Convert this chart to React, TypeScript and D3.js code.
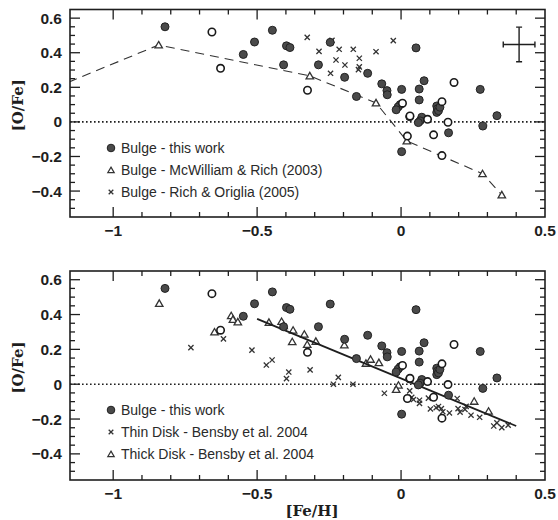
import React from 'react';
import * as d3 from 'd3';

// ---------- axes ----------
const xDomain: [number, number] = [-1.15, 0.5];
const yDomain: [number, number] = [-0.55, 0.65];
const xMajorTicks = [-1, -0.5, 0, 0.5];
const xTickLabels = ['−1', '−0.5', '0', '0.5'];
const yMajorTicks = [0.6, 0.4, 0.2, 0, -0.2, -0.4];
const yTickLabels = ['0.6', '0.4', '0.2', '0', '−0.2', '−0.4'];
const xMinorStep = 0.1;
const yMinorStep = 0.05;

// ---------- data: [Fe/H], [O/Fe] ----------
const bulgeFilled: [number, number][] = [
  [-0.82, 0.55], [-0.447, 0.53], [-0.509, 0.462], [-0.548, 0.39], [-0.398, 0.44],
  [-0.386, 0.43], [-0.408, 0.33], [-0.246, 0.46], [-0.287, 0.33], [-0.196, 0.258],
  [-0.116, 0.281], [-0.155, 0.147], [-0.067, 0.22], [-0.049, 0.181], [-0.048, 0.157],
  [0.002, 0.188], [0.052, 0.428], [0.063, 0.19], [0.08, 0.238], [0.063, 0.127],
  [-0.003, 0.1], [-0.01, 0.087], [-0.017, 0.07], [0.03, 0.03], [0.072, 0.027],
  [0.066, 0.006], [0.06, -0.004], [0.124, 0.092], [0.126, 0.075], [0.124, 0.055],
  [0.13, 0.065], [0.135, 0.085], [0.165, -0.063], [0.002, -0.172], [0.275, 0.188],
  [0.284, -0.024], [0.333, 0.036],
];
const bulgeOpen: [number, number][] = [
  [-0.657, 0.52], [-0.627, 0.31], [-0.325, 0.183], [0.005, 0.108], [0.031, 0.034],
  [0.022, -0.082], [0.092, 0.015], [0.113, -0.075], [0.142, 0.117], [0.163, -0.002],
  [0.184, 0.228], [0.142, -0.195],
];
const mcWilliamRich: [number, number][] = [
  [-1.3, 0.13], [-0.842, 0.445], [-0.317, 0.266], [-0.087, 0.11], [0.02, -0.11],
  [0.283, -0.3], [0.35, -0.422],
];
const richOriglia: [number, number][] = [
  [-0.326, 0.489], [-0.285, 0.408], [-0.24, 0.472], [-0.215, 0.42], [-0.166, 0.42],
  [-0.226, 0.358], [-0.195, 0.329], [-0.145, 0.368], [-0.145, 0.318], [-0.148, 0.302],
  [-0.245, 0.281], [-0.087, 0.406], [-0.027, 0.47],
];
const thinDisk: [number, number][] = [
  [-0.73, 0.21], [-0.617, 0.26], [-0.518, 0.196], [-0.468, 0.11], [-0.448, 0.139],
  [-0.39, 0.07], [-0.398, 0.032], [-0.316, 0.082], [-0.218, 0.039], [-0.235, 0.0],
  [-0.167, 0.0], [-0.058, -0.052], [0.03, -0.038], [0.037, -0.075], [0.043, -0.088],
  [0.064, -0.092], [0.064, -0.11], [0.095, -0.08], [0.102, -0.142], [0.122, -0.135],
  [0.13, -0.128], [0.14, -0.14], [0.145, -0.158], [0.168, -0.165], [0.195, -0.082],
  [0.198, -0.14], [0.205, -0.16], [0.222, -0.145], [0.226, -0.127], [0.243, -0.178],
  [0.273, -0.19], [0.322, -0.24], [0.333, -0.222], [0.35, -0.249], [0.372, -0.235],
];
const thickDisk: [number, number][] = [
  [-0.84, 0.464], [-0.648, 0.3], [-0.59, 0.393], [-0.584, 0.372], [-0.567, 0.358],
  [-0.459, 0.355], [-0.415, 0.36], [-0.408, 0.336], [-0.375, 0.31], [-0.378, 0.244],
  [-0.336, 0.287], [-0.326, 0.228], [-0.296, 0.246], [-0.197, 0.225], [-0.122, 0.12],
  [-0.106, 0.143], [-0.077, 0.124], [-0.009, -0.006], [-0.017, -0.03], [0.254, -0.098],
  [0.304, -0.155],
];
const fitLineFeH = [-0.5, 0.4];
const fitLineOFe = [0.375, -0.24];
const errorBar = { x: 0.41, y: 0.448, dx: 0.055, dy: 0.1 };

const legendTop = ['Bulge - this work', 'Bulge - McWilliam & Rich (2003)', 'Bulge - Rich & Origlia (2005)'];
const legendBottom = ['Bulge - this work', 'Thin Disk - Bensby et al. 2004', 'Thick Disk - Bensby et al. 2004'];

// ---------- layout ----------
const W = 558, H = 520;
const left = 70, right = 545;
const panels = [
  { top: 9.5, bottom: 217 },
  { top: 271, bottom: 480 },
];

const INK = '#1e1e1e';
const SANS = '"Liberation Sans", Arial, Helvetica, sans-serif';
const SERIF = '"DejaVu Serif", "Liberation Serif", serif';

const x = d3.scaleLinear().domain(xDomain).range([left, right]);

const triPath = d3.symbol(d3.symbolTriangle, 24)()!;

function Cross({ cx, cy, s = 2.6 }: { cx: number; cy: number; s?: number }) {
  return (
    <path d={`M${cx - s},${cy - s}L${cx + s},${cy + s}M${cx - s},${cy + s}L${cx + s},${cy - s}`}
      stroke="#333" strokeWidth={1.3} fill="none" />
  );
}
function Tri({ cx, cy }: { cx: number; cy: number }) {
  return <path d={triPath} transform={`translate(${cx},${cy + 0.8})`} fill="white" stroke="#333" strokeWidth={1.3} />;
}
function Filled({ cx, cy }: { cx: number; cy: number }) {
  return <circle cx={cx} cy={cy} r={4} fill="#4a4a4a" stroke="#222" strokeWidth={1} />;
}
function Open({ cx, cy }: { cx: number; cy: number }) {
  return <circle cx={cx} cy={cy} r={3.7} fill="white" stroke="#1a1a1a" strokeWidth={1.6} />;
}

function Frame({ y, idx }: { y: d3.ScaleLinear<number, number>; idx: number }) {
  const top = panels[idx].top, bottom = panels[idx].bottom;
  const xMinor = d3.range(Math.round(xDomain[0] / xMinorStep) + 1, Math.round(xDomain[1] / xMinorStep))
    .map((i) => +(i * xMinorStep).toFixed(3));
  const yMinor = d3.range(Math.round(yDomain[0] / yMinorStep) + 1, Math.round(yDomain[1] / yMinorStep))
    .map((i) => +(i * yMinorStep).toFixed(3));
  const isMajor = (v: number, arr: number[]) => arr.some((a) => Math.abs(a - v) < 1e-6);
  const ticks: JSX.Element[] = [];
  xMinor.forEach((v, i) => {
    const L = isMajor(v, xMajorTicks) ? 10 : 5;
    const px = x(v);
    ticks.push(<line key={`xb${i}`} x1={px} x2={px} y1={bottom} y2={bottom - L} />);
    ticks.push(<line key={`xt${i}`} x1={px} x2={px} y1={top} y2={top + L} />);
  });
  yMinor.forEach((v, i) => {
    const L = isMajor(v, yMajorTicks) ? 10 : 5;
    const py = y(v);
    ticks.push(<line key={`yl${i}`} x1={left} x2={left + L} y1={py} y2={py} />);
    ticks.push(<line key={`yr${i}`} x1={right} x2={right - L} y1={py} y2={py} />);
  });
  return (
    <g>
      <g stroke={INK} strokeWidth={1.3}>{ticks}</g>
      <rect x={left} y={top} width={right - left} height={bottom - top} fill="none" stroke={INK} strokeWidth={1.6} />
      <g fontFamily={SANS} fontWeight="bold" fontSize={15.5} fill={INK}>
        {yMajorTicks.map((v, i) => (
          <text key={`yl${i}`} x={62} y={y(v)} dy="0.36em" textAnchor="end">{yTickLabels[i]}</text>
        ))}
        {xMajorTicks.map((v, i) => (
          <text key={`xl${i}`} x={x(v)} y={bottom + 13} dy="0.36em" textAnchor="middle">{xTickLabels[i]}</text>
        ))}
      </g>
      <text transform={`translate(18,${(top + bottom) / 2 - 8}) rotate(-90)`} textAnchor="middle" dy="0.36em"
        fontFamily={SERIF} fontWeight="bold" fontSize={15} fill={INK}>[O/Fe]</text>
    </g>
  );
}

function Legend({ y0, labels, kinds }: { y0: number; labels: string[]; kinds: string[] }) {
  return (
    <g fontFamily={SANS} fontSize={14} fill="#2a2a2a">
      {labels.map((lab, i) => {
        const cy = y0 + i * 22;
        const cx = 111;
        const k = kinds[i];
        return (
          <g key={i}>
            {k === 'filled' && <circle cx={cx} cy={cy} r={3.8} fill="#4a4a4a" stroke="#222" />}
            {k === 'tri' && <path d={d3.symbol(d3.symbolTriangle, 18)()!} transform={`translate(${cx},${cy + 0.8})`} fill="white" stroke="#333" strokeWidth={1.2} />}
            {k === 'cross' && <Cross cx={cx} cy={cy} s={2.3} />}
            <text x={121} y={cy} dy="0.36em">{lab}</text>
          </g>
        );
      })}
    </g>
  );
}

export default function App() {
  const yTop = d3.scaleLinear().domain(yDomain).range([panels[0].bottom, panels[0].top]);
  const yBot = d3.scaleLinear().domain(yDomain).range([panels[1].bottom, panels[1].top]);
  const dashLine = d3.line<[number, number]>().x((d) => x(d[0])).y((d) => yTop(d[1]));
  const fitLine = d3.line<number>().x((d) => x(d)).y((_, i) => yBot(fitLineOFe[i]));

  return (
    <svg width={W} height={H} style={{ position: 'absolute', left: 0, top: 0, background: 'white' }}>
      <defs>
        <clipPath id="clipTop"><rect x={left} y={panels[0].top} width={right - left} height={panels[0].bottom - panels[0].top} /></clipPath>
        <clipPath id="clipBot"><rect x={left} y={panels[1].top} width={right - left} height={panels[1].bottom - panels[1].top} /></clipPath>
      </defs>

      {/* ---------------- top panel ---------------- */}
      <g clipPath="url(#clipTop)">
        <line x1={left} x2={right} y1={yTop(0)} y2={yTop(0)} stroke={INK} strokeWidth={1.6} strokeDasharray="1.6,2.4" />
        <path d={dashLine(mcWilliamRich)!} fill="none" stroke="#333" strokeWidth={1.1} strokeDasharray="9,6" />
        {richOriglia.map((d, i) => <Cross key={`ro${i}`} cx={x(d[0])} cy={yTop(d[1])} />)}
        {mcWilliamRich.map((d, i) => <Tri key={`mr${i}`} cx={x(d[0])} cy={yTop(d[1])} />)}
        {bulgeFilled.map((d, i) => <Filled key={`bf${i}`} cx={x(d[0])} cy={yTop(d[1])} />)}
        {bulgeOpen.map((d, i) => <Open key={`bo${i}`} cx={x(d[0])} cy={yTop(d[1])} />)}
        {/* representative error bar */}
        <g stroke={INK} strokeWidth={1.4}>
          <line x1={x(errorBar.x - errorBar.dx)} x2={x(errorBar.x + errorBar.dx)} y1={yTop(errorBar.y)} y2={yTop(errorBar.y)} />
          <line x1={x(errorBar.x)} x2={x(errorBar.x)} y1={yTop(errorBar.y - errorBar.dy)} y2={yTop(errorBar.y + errorBar.dy)} />
          <line x1={x(errorBar.x - errorBar.dx)} x2={x(errorBar.x - errorBar.dx)} y1={yTop(errorBar.y) - 3} y2={yTop(errorBar.y) + 3} />
          <line x1={x(errorBar.x + errorBar.dx)} x2={x(errorBar.x + errorBar.dx)} y1={yTop(errorBar.y) - 3} y2={yTop(errorBar.y) + 3} />
          <line x1={x(errorBar.x) - 3} x2={x(errorBar.x) + 3} y1={yTop(errorBar.y - errorBar.dy)} y2={yTop(errorBar.y - errorBar.dy)} />
          <line x1={x(errorBar.x) - 3} x2={x(errorBar.x) + 3} y1={yTop(errorBar.y + errorBar.dy)} y2={yTop(errorBar.y + errorBar.dy)} />
        </g>
      </g>
      <Frame y={yTop} idx={0} />
      <Legend y0={148} labels={legendTop} kinds={['filled', 'tri', 'cross']} />

      {/* ---------------- bottom panel ---------------- */}
      <g clipPath="url(#clipBot)">
        <line x1={left} x2={right} y1={yBot(0)} y2={yBot(0)} stroke={INK} strokeWidth={1.6} strokeDasharray="1.6,2.4" />
        {thinDisk.map((d, i) => <Cross key={`td${i}`} cx={x(d[0])} cy={yBot(d[1])} />)}
        {thickDisk.map((d, i) => <Tri key={`tk${i}`} cx={x(d[0])} cy={yBot(d[1])} />)}
        <path d={fitLine(fitLineFeH)!} fill="none" stroke={INK} strokeWidth={1.8} />
        {bulgeFilled.map((d, i) => <Filled key={`bf2${i}`} cx={x(d[0])} cy={yBot(d[1])} />)}
        {bulgeOpen.map((d, i) => <Open key={`bo2${i}`} cx={x(d[0])} cy={yBot(d[1])} />)}
      </g>
      <Frame y={yBot} idx={1} />
      <Legend y0={410} labels={legendBottom} kinds={['filled', 'cross', 'tri']} />

      <text x={312} y={511} dy="0.36em" textAnchor="middle" fontFamily={SERIF} fontWeight="bold" fontSize={15} fill={INK}>[Fe/H]</text>
    </svg>
  );
}
